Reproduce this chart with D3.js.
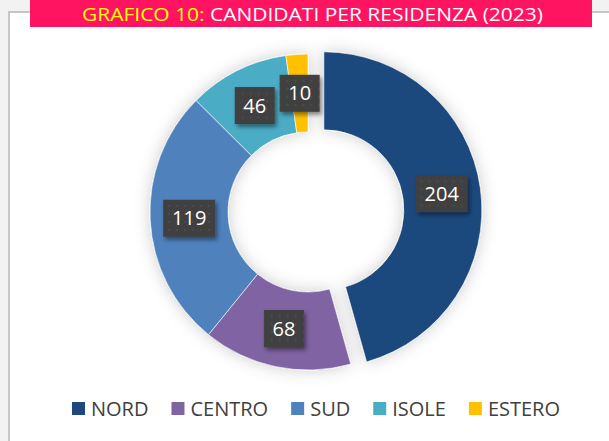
<!DOCTYPE html>
<html>
<head>
<meta charset="utf-8">
<script src="https://cdn.jsdelivr.net/npm/d3@7"></script>
<style>
  body { margin: 0; background: #f2f2f2; }
  svg { display: block; font-family: 'Open Sans', sans-serif; }
</style>
</head>
<body>
<svg id="chart" width="609" height="441"></svg>
<script>
// data
var regions = ['NORD', 'CENTRO', 'SUD', 'ISOLE', 'ESTERO']
var counts = [204, 68, 119, 46, 10]
var colours = ['#1f497d', '#8064a2', '#4f81bd', '#4bacc6', '#ffc000']

var width = 609
var height = 441
var cx = 308
var cy = 212
var outerR = 158
var innerR = 80
var explode = 16

var svg = d3.select('#chart')

// white panel with grey border
svg.append('rect')
  .attr('x', 9).attr('y', 12)
  .attr('width', 620).attr('height', 440)
  .attr('fill', '#fff')
  .attr('stroke', '#c6c6c6')
  .attr('stroke-width', 2)

// title bar
svg.append('rect')
  .attr('x', 30).attr('y', 0)
  .attr('width', 562).attr('height', 27)
  .attr('fill', '#ff1462')

var title = svg.append('text')
  .attr('x', 82).attr('y', 21)
  .attr('font-size', 19)
  .attr('font-weight', 500)
  .attr('textLength', 461)
  .attr('lengthAdjust', 'spacingAndGlyphs')
title.append('tspan').attr('fill', '#ffff00').text('GRAFICO 10: ')
title.append('tspan').attr('fill', '#fff').text('CANDIDATI PER RESIDENZA (2023)')

var defs = svg.append('defs')

var glow = defs.append('filter').attr('id', 'glow')
  .attr('x', '-30%').attr('y', '-30%').attr('width', '160%').attr('height', '160%')
glow.append('feDropShadow')
  .attr('dx', 0).attr('dy', 0)
  .attr('stdDeviation', 8)
  .attr('flood-color', '#000')
  .attr('flood-opacity', 0.2)

var boxShadow = defs.append('filter').attr('id', 'boxshadow')
  .attr('x', '-30%').attr('y', '-30%').attr('width', '170%').attr('height', '170%')
boxShadow.append('feDropShadow')
  .attr('dx', 2).attr('dy', 3)
  .attr('stdDeviation', 2)
  .attr('flood-color', '#000')
  .attr('flood-opacity', 0.45)

// dotted texture of the label boxes
var pat = defs.append('pattern').attr('id', 'dots')
  .attr('width', 8).attr('height', 8)
  .attr('patternUnits', 'userSpaceOnUse')
pat.append('rect').attr('width', 8).attr('height', 8).attr('fill', '#3f3f3f')
pat.append('rect').attr('x', 3).attr('y', 3).attr('width', 1.5).attr('height', 1.5).attr('fill', '#555')

var pie = d3.pie().sort(null).value(function(d) { return d })
var arcs = pie(counts)

var arc = d3.arc().innerRadius(innerR).outerRadius(outerR)

var g = svg.append('g')
  .attr('transform', 'translate(' + cx + ',' + cy + ')')
  .attr('filter', 'url(#glow)')

function offset(d, i) {
  if (i !== 0) return [0, 0]
  var a = (d.startAngle + d.endAngle) / 2
  return [Math.sin(a) * explode, -Math.cos(a) * explode]
}

g.selectAll('path')
  .data(arcs)
  .enter()
  .append('path')
  .attr('d', arc)
  .attr('transform', function(d, i) {
    var o = offset(d, i)
    return 'translate(' + o[0] + ',' + o[1] + ')'
  })
  .attr('fill', function(d, i) { return colours[i] })
  .attr('stroke', '#fff')
  .attr('stroke-width', 0.6)

// value labels
var labels = svg.append('g')
  .attr('transform', 'translate(' + cx + ',' + cy + ')')
  .selectAll('g')
  .data(arcs)
  .enter()
  .append('g')
  .attr('transform', function(d, i) {
    var c = arc.centroid(d)
    var o = offset(d, i)
    return 'translate(' + (c[0] + o[0]) + ',' + (c[1] + o[1]) + ')'
  })

labels.append('rect')
  .attr('x', function(d) { return d.value >= 100 ? -26 : -20 })
  .attr('y', -18.5)
  .attr('width', function(d) { return d.value >= 100 ? 52 : 40 })
  .attr('height', 37)
  .attr('fill', 'url(#dots)')
  .attr('filter', 'url(#boxshadow)')

labels.append('text')
  .text(function(d) { return d.value })
  .attr('text-anchor', 'middle')
  .attr('dy', 7)
  .attr('font-size', 20)
  .attr('fill', '#fff')

// legend
var legend = svg.append('g')
var lx = 0
regions.forEach(function(name, i) {
  var item = legend.append('g').attr('transform', 'translate(' + lx + ',0)')
  item.append('rect')
    .attr('x', 0).attr('y', 402)
    .attr('width', 13).attr('height', 13)
    .attr('fill', colours[i])
  var t = item.append('text')
    .attr('x', 19).attr('y', 416)
    .attr('font-size', 20)
    .attr('fill', '#404040')
    .text(name)
  lx += 19 + t.node().getComputedTextLength() + 23
})
var legendW = lx - 23
legend.attr('transform', 'translate(' + (316 - legendW / 2) + ',0)')
</script>
</body>
</html>
